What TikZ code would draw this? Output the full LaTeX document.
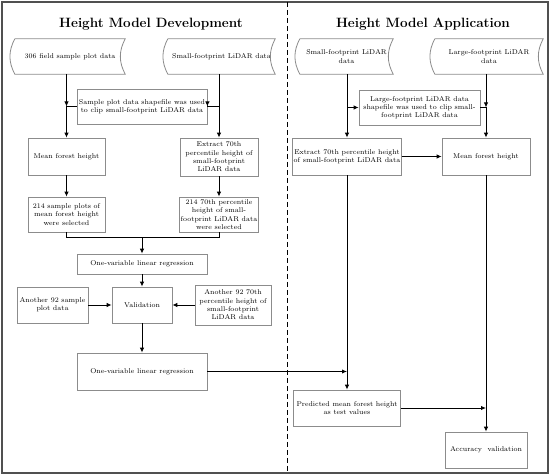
\documentclass[tikz,border=0pt]{standalone}
\usetikzlibrary{arrows.meta}
\definecolor{boxgray}{HTML}{8C8C8C}
\definecolor{framegray}{HTML}{505050}
\begin{document}
\begin{tikzpicture}[x=1pt,y=-1pt,
  box/.style={draw=boxgray, line width=0.8pt, align=center, inner sep=1pt,
    font=\fontsize{7}{8.3}\selectfont},
  docnode/.style={align=center, inner sep=0pt, font=\fontsize{7}{8.3}\selectfont},
  docline/.style={draw=boxgray, line width=0.8pt},
  conn/.style={line width=0.9pt},
  arr/.style={conn, -{Latex[length=5pt,width=4.5pt]}},
  ttl/.style={font=\fontsize{13.5}{15}\selectfont\bfseries}
]
\useasboundingbox (0,0) rectangle (550,476);
% frame and divider
\draw[framegray, line width=1.2pt] (2,2) rectangle (548,473);
\coordinate (dtop) at (287,2);
\coordinate (dbot) at (287,473);
\draw[line width=1pt, dash pattern=on 5pt off 3pt] (dtop) -- (dbot);
% titles
\node[ttl] (t1) at (151,24) {Height Model Development};
\node[ttl] (t2) at (423,24) {Height Model Application};

% stored-data shapes
\node[docnode, minimum width=110pt, minimum height=35pt] (d1) at (70,56.5) {306 field sample plot data};
\node[docnode, minimum width=107pt, minimum height=35pt] (d2) at (221.5,56.5) {Small-footprint LiDAR data};
\node[docnode, minimum width=93pt, minimum height=35pt] (d3) at (346.5,56.5) {Small-footprint LiDAR\\data};
\node[docnode, minimum width=108pt, minimum height=35pt] (d4) at (489,56.5) {Large-footprint LiDAR\\data};
\foreach \d in {d1,d2,d3,d4}{
  \draw[docline] (\d.north west) -- (\d.north east) to[bend right=28] (\d.south east)
    -- (\d.south west) to[bend left=28] (\d.north west);
}

% left column boxes
\node[box, minimum width=130pt, minimum height=35pt] (clip1) at (142,106.5)
  {Sample plot data shapefile was used\\to clip small-footprint LiDAR data};
\node[box, minimum width=77pt, minimum height=37pt] (mfh1) at (66.5,156.5) {Mean forest height};
\node[box, minimum width=78pt, minimum height=38pt] (ext1) at (219,157)
  {Extract 70th\\percentile height of\\small-footprint\\LiDAR data};
\node[box, minimum width=77pt, minimum height=35pt] (s214) at (66.5,214.5)
  {214 sample plots of\\mean forest height\\were selected};
\node[box, minimum width=78pt, minimum height=35pt] (p214) at (219,214.5)
  {214 70th percentile\\height of small-\\footprint LiDAR data\\were selected};
\node[box, minimum width=130pt, minimum height=20pt] (reg1) at (142,264) {One-variable linear regression};
\node[box, minimum width=60pt, minimum height=36pt] (val) at (142,305) {Validation};
\node[box, minimum width=71pt, minimum height=36pt] (a92) at (52.5,305) {Another 92 sample\\plot data};
\node[box, minimum width=76pt, minimum height=40pt] (b92) at (233,305)
  {Another 92 70th\\percentile height of\\small-footprint\\LiDAR data};
\node[box, minimum width=130pt, minimum height=37pt] (reg2) at (142,371.5) {One-variable linear regression};

% right column boxes
\node[box, minimum width=121pt, minimum height=35pt] (clip2) at (419.5,107.5)
  {Large-footprint LiDAR data\\shapefile was used to clip small-\\footprint LiDAR data};
\node[box, minimum width=108pt, minimum height=37pt] (ext2) at (347,156.5)
  {Extract 70th percentile height\\of small-footprint LiDAR data};
\node[box, minimum width=88pt, minimum height=37pt] (mfh2) at (486,156.5) {Mean forest height};
\node[box, minimum width=107pt, minimum height=36pt] (pred) at (347,408)
  {Predicted mean forest height\\as test values};
\node[box, minimum width=82pt, minimum height=36pt] (acc) at (486,450) {Accuracy\ \ validation};

% junction coordinates
\coordinate (j1) at (mfh1.north |- clip1.west);
\coordinate (j2) at (ext1.north |- clip1.east);
\coordinate (j3) at (ext2.north |- clip2.west);
\coordinate (j4) at (mfh2.north |- clip2.east);
\coordinate (jl) at ([yshift=-5pt]s214.south);
\coordinate (jr) at (p214.south |- jl);
\coordinate (jm) at (reg1.north |- jl);
\coordinate (k1) at (pred.north |- reg2.east);
\coordinate (k2) at (acc.north |- pred.east);

% left connectors
\draw[arr] (mfh1.north |- d1.south) -- (j1);
\draw[arr] (j1) -- (mfh1.north);
\draw[conn] (clip1.west) -- (j1);
\draw[arr] (ext1.north |- d2.south) -- (ext1.north);
\draw[conn] (clip1.east) -- (j2);
\draw[arr] ([yshift=3pt]clip1.east) -- (clip1.east);
\draw[arr] (mfh1.south) -- (s214.north);
\draw[arr] (ext1.south) -- (p214.north);
\draw[conn] (s214.south) -- (jl) -- (jr) -- (p214.south);
\draw[arr] (jm) -- (reg1.north);
\draw[arr] (reg1.south) -- (val.north);
\draw[arr] (a92.east) -- (val.west);
\draw[arr] (b92.west) -- (val.east);
\draw[arr] (val.south) -- (reg2.north);
\draw[arr] (reg2.east) -- (k1);

% right connectors
\draw[arr] (ext2.north |- d3.south) -- (ext2.north);
\draw[arr] (j3) -- (clip2.west);
\draw[arr] (mfh2.north |- d4.south) -- (j4);
\draw[arr] (j4) -- (mfh2.north);
\draw[conn] (clip2.east) -- (j4);
\draw[arr] (ext2.east) -- (mfh2.west);
\draw[arr] (ext2.south) -- (pred.north);
\draw[arr] (mfh2.south) -- (acc.north);
\draw[arr] (pred.east) -- (k2);
\end{tikzpicture}
\end{document}
